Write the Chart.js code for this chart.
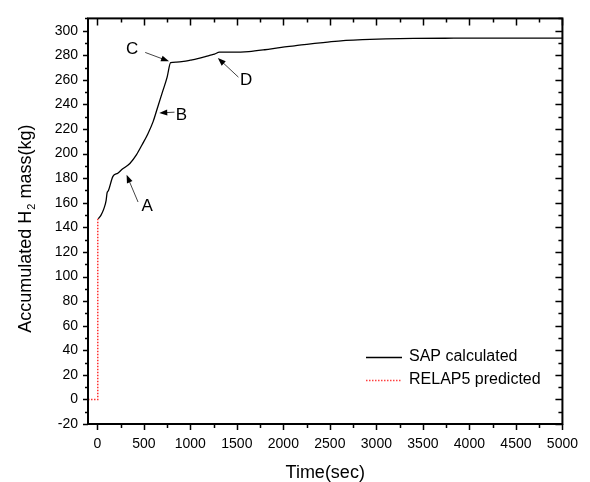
<!DOCTYPE html>
<html>
<head>
<meta charset="utf-8">
<script src="https://cdn.jsdelivr.net/npm/chart.js@4.4.1/dist/chart.umd.min.js"></script>
<style>
  html, body { margin: 0; padding: 0; background: #ffffff; }
  #wrap { width: 590px; height: 482px; }
</style>
</head>
<body>
<div id="wrap"><canvas id="h2-chart" width="590" height="482"></canvas></div>
<script>
// values
const sapTime = [10, 40, 70, 95, 105, 120, 168, 220, 263, 350, 420, 480, 543, 600, 648, 700, 750, 788,
  850, 928, 1000, 1068, 1140, 1208, 1260, 1313, 1450, 1628, 1800, 1979, 2119, 2294, 2450, 2644,
  2850, 3099, 3400, 3834, 4300, 5000];
const sapMass = [147, 150, 155, 162, 168, 170, 181.5, 184, 187, 192, 199, 207, 216, 226, 237.5, 250, 262, 274,
  274.5, 275, 276, 277, 278.5, 280, 281, 282.5, 282.5, 283, 284.5, 286.5, 287.7, 289.3, 290.5, 292,
  292.7, 293.3, 293.7, 293.9, 294, 294];
const relapTime = [-100, 5, 5];
const relapMass = [0, 0, 147];

const xTickValues = [0, 500, 1000, 1500, 2000, 2500, 3000, 3500, 4000, 4500, 5000];
const yTickValues = [-20, 0, 20, 40, 60, 80, 100, 120, 140, 160, 180, 200, 220, 240, 260, 280, 300];

// labelled arrows, in data units: label point, arrow tail, arrow head
const marks = [
  { text: 'A', at: [536, 157], tail: [438, 160.6], head: [315, 182.7] },
  { text: 'B', at: [905, 231], tail: [830, 233.7], head: [666, 233.1] },
  { text: 'C', at: [375, 285], tail: [515, 282.3], head: [771, 275.1] },
  { text: 'D', at: [1601, 259.6], tail: [1517, 262.2], head: [1296, 277.8] }
];

const FONT = "'Liberation Sans', Arial, sans-serif";

function toPoints(xs, ys) {
  return xs.map((x, i) => ({ x: x, y: ys[i] }));
}

// axis box, ticks, titles, legend and arrows
const framePlugin = {
  id: 'frame',
  afterDraw(chart) {
    const ctx = chart.ctx;
    const a = chart.chartArea;
    const xs = chart.scales.x;
    const ys = chart.scales.y;
    ctx.save();
    ctx.strokeStyle = '#000';
    ctx.lineWidth = 2;
    ctx.strokeRect(a.left, a.top, a.right - a.left, a.bottom - a.top);

    ctx.lineWidth = 1.5;
    ctx.beginPath();
    // x ticks: major and minor (bottom outward, top inward)
    for (let i = 0; i < xTickValues.length; i++) {
      const px = Math.round(xs.getPixelForValue(xTickValues[i])) + 0.5;
      ctx.moveTo(px, a.bottom); ctx.lineTo(px, a.bottom + 6);
      ctx.moveTo(px, a.top); ctx.lineTo(px, a.top + 7);
      if (i < xTickValues.length - 1) {
        const mx = Math.round(xs.getPixelForValue((xTickValues[i] + xTickValues[i + 1]) / 2)) + 0.5;
        ctx.moveTo(mx, a.bottom); ctx.lineTo(mx, a.bottom + 4);
        ctx.moveTo(mx, a.top); ctx.lineTo(mx, a.top + 4);
      }
    }
    // y ticks: left outward, right inward
    for (let i = 0; i < yTickValues.length; i++) {
      const py = Math.round(ys.getPixelForValue(yTickValues[i])) + 0.5;
      ctx.moveTo(a.left, py); ctx.lineTo(a.left - 5, py);
      ctx.moveTo(a.right, py); ctx.lineTo(a.right - 7, py);
      const next = i < yTickValues.length - 1 ? yTickValues[i + 1] : yTickValues[i] + 20;
      const mv = (yTickValues[i] + next) / 2;
      if (mv <= ys.max) {
        const my = Math.round(ys.getPixelForValue(mv)) + 0.5;
        ctx.moveTo(a.left, my); ctx.lineTo(a.left - 3, my);
        ctx.moveTo(a.right, my); ctx.lineTo(a.right - 4, my);
      }
    }
    ctx.stroke();

    // x title
    ctx.fillStyle = '#000';
    ctx.font = '18px ' + FONT;
    ctx.textAlign = 'center';
    ctx.textBaseline = 'middle';
    ctx.fillText('Time(sec)', (a.left + a.right) / 2, 473);

    // y title with subscript
    ctx.save();
    ctx.translate(25, (a.top + a.bottom) / 2 + 8);
    ctx.rotate(-Math.PI / 2);
    const p1 = 'Accumulated H', p2 = '2', p3 = ' mass(kg)';
    ctx.font = '18px ' + FONT;
    const w1 = ctx.measureText(p1).width, w3 = ctx.measureText(p3).width;
    ctx.font = '11px ' + FONT;
    const w2 = ctx.measureText(p2).width;
    let x0 = -(w1 + w2 + w3) / 2;
    ctx.textAlign = 'left';
    ctx.textBaseline = 'alphabetic';
    ctx.font = '18px ' + FONT;
    ctx.fillText(p1, x0, 6);
    ctx.font = '11px ' + FONT;
    ctx.fillText(p2, x0 + w1 + 1, 10);
    ctx.font = '18px ' + FONT;
    ctx.fillText(p3, x0 + w1 + w2 + 1, 6);
    ctx.restore();

    // legend
    ctx.font = '16px ' + FONT;
    ctx.textAlign = 'left';
    ctx.textBaseline = 'middle';
    ctx.lineWidth = 1.3;
    ctx.strokeStyle = '#000';
    ctx.beginPath(); ctx.moveTo(366, 357.5); ctx.lineTo(402, 357.5); ctx.stroke();
    ctx.fillText('SAP calculated', 409, 357);
    ctx.strokeStyle = '#ff4040';
    ctx.setLineDash([1.5, 1.5]);
    ctx.beginPath(); ctx.moveTo(366, 380.5); ctx.lineTo(402, 380.5); ctx.stroke();
    ctx.setLineDash([]);
    ctx.fillText('RELAP5 predicted', 409, 380);

    // labelled arrows
    ctx.font = '17px ' + FONT;
    ctx.textAlign = 'center';
    marks.forEach(m => {
      const tx = xs.getPixelForValue(m.at[0]), ty = ys.getPixelForValue(m.at[1]);
      ctx.fillStyle = '#000';
      ctx.fillText(m.text, tx, ty);
      const x1 = xs.getPixelForValue(m.tail[0]), y1 = ys.getPixelForValue(m.tail[1]);
      const x2 = xs.getPixelForValue(m.head[0]), y2 = ys.getPixelForValue(m.head[1]);
      const ang = Math.atan2(y2 - y1, x2 - x1);
      ctx.strokeStyle = '#444';
      ctx.lineWidth = 1;
      ctx.beginPath(); ctx.moveTo(x1, y1); ctx.lineTo(x2 - 5 * Math.cos(ang), y2 - 5 * Math.sin(ang)); ctx.stroke();
      ctx.fillStyle = '#000';
      ctx.beginPath();
      ctx.moveTo(x2, y2);
      ctx.lineTo(x2 - 8 * Math.cos(ang) + 3 * Math.sin(ang), y2 - 8 * Math.sin(ang) - 3 * Math.cos(ang));
      ctx.lineTo(x2 - 8 * Math.cos(ang) - 3 * Math.sin(ang), y2 - 8 * Math.sin(ang) + 3 * Math.cos(ang));
      ctx.closePath();
      ctx.fill();
    });
    ctx.restore();
  }
};

new Chart(document.getElementById('h2-chart'), {
  type: 'line',
  data: {
    datasets: [
      {
        label: 'RELAP5 predicted',
        data: toPoints(relapTime, relapMass),
        borderColor: '#ff3030',
        borderWidth: 1.5,
        borderDash: [1.5, 1.5],
        pointRadius: 0,
        tension: 0,
        fill: false
      },
      {
        label: 'SAP calculated',
        data: toPoints(sapTime, sapMass),
        borderColor: '#000000',
        borderWidth: 1.3,
        pointRadius: 0,
        tension: 0.2,
        cubicInterpolationMode: 'monotone',
        fill: false
      }
    ]
  },
  options: {
    responsive: false,
    animation: false,
    layout: { padding: { top: 14, right: 16, left: 0, bottom: 0 } },
    plugins: {
      legend: { display: false },
      tooltip: { enabled: false }
    },
    scales: {
      x: {
        type: 'linear',
        min: -100,
        max: 5000,
        grid: { display: false, drawTicks: false },
        border: { display: false },
        afterBuildTicks: s => { s.ticks = xTickValues.map(v => ({ value: v })); },
        afterFit: s => { s.height = 58; },
        ticks: {
          autoSkip: false,
          maxRotation: 0,
          padding: 12,
          color: '#000',
          font: { family: FONT, size: 14 },
          callback: v => String(v)
        }
      },
      y: {
        type: 'linear',
        min: -20,
        max: 310,
        grid: { display: false, drawTicks: false },
        border: { display: false },
        afterBuildTicks: s => { s.ticks = yTickValues.map(v => ({ value: v })); },
        afterFit: s => { s.width = 88; },
        ticks: {
          autoSkip: false,
          padding: 10,
          color: '#000',
          font: { family: FONT, size: 14 },
          callback: v => String(v)
        }
      }
    }
  },
  plugins: [framePlugin]
});
</script>
</body>
</html>
